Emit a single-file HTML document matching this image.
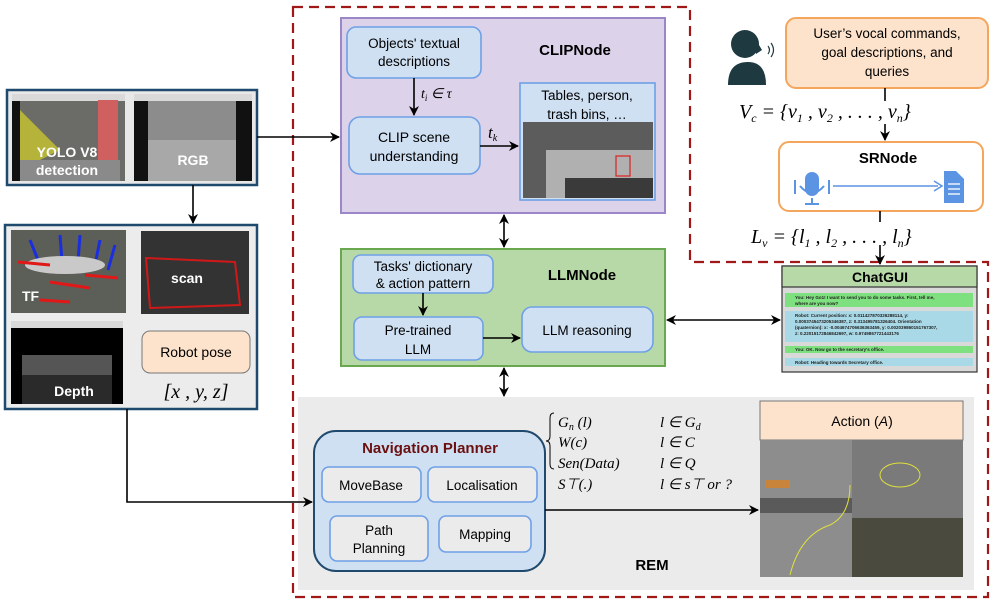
<!DOCTYPE html>
<html><head><meta charset="utf-8"><style>
body{margin:0;background:#fff}
svg{display:block;font-family:"Liberation Sans",sans-serif}
.m{font-family:"Liberation Serif",serif;font-style:italic}
</style></head><body>
<svg width="992" height="606" viewBox="0 0 992 606" xmlns="http://www.w3.org/2000/svg">
<defs>
<marker id="a" markerWidth="10" markerHeight="10" refX="9" refY="5" orient="auto" markerUnits="userSpaceOnUse"><path d="M0,0 L10,5 L0,10 L3,5z" fill="#000"/></marker>
<marker id="b" markerWidth="10" markerHeight="10" refX="1" refY="5" orient="auto" markerUnits="userSpaceOnUse"><path d="M10,0 L0,5 L10,10 L7,5z" fill="#000"/></marker>
</defs>
<!-- REM gray -->
<rect x="298" y="397" width="676" height="193" fill="#ebebeb"/>
<!-- red dashed border -->
<path d="M293,7 H690 V262 H988 V597 H293 Z" fill="none" stroke="#a01818" stroke-width="2.2" stroke-dasharray="10,6"/>

<!-- left panels -->
<rect x="7" y="90" width="250" height="95" fill="#e8e8e8" stroke="#1f4a6e" stroke-width="2.5"/>
<rect x="12" y="94" width="113" height="87" fill="#6b6b68"/>
<rect x="12" y="94" width="113" height="7" fill="#d9d9d9"/>
<rect x="12" y="101" width="8" height="80" fill="#111"/>
<polygon points="20,110 60,150 20,170" fill="#b5b33a"/>
<rect x="98" y="100" width="20" height="78" fill="#d06060"/>
<rect x="20" y="160" width="100" height="21" fill="#8a8a8a"/>
<text x="67" y="157" font-size="14" font-weight="bold" fill="#fff" text-anchor="middle">YOLO V8</text>
<text x="67" y="175" font-size="14" font-weight="bold" fill="#fff" text-anchor="middle">detection</text>
<rect x="134" y="94" width="118" height="87" fill="#8c8c8c"/>
<rect x="134" y="94" width="118" height="7" fill="#d9d9d9"/>
<rect x="134" y="101" width="14" height="80" fill="#111"/>
<rect x="236" y="101" width="16" height="80" fill="#111"/>
<rect x="148" y="140" width="88" height="41" fill="#a8a8a8"/>
<text x="193" y="165" font-size="14" font-weight="bold" fill="#fff" text-anchor="middle">RGB</text>

<rect x="5" y="225" width="252" height="184" fill="#ececec" stroke="#1f4a6e" stroke-width="2.5"/>
<rect x="11" y="230" width="115" height="83" fill="#5c5e58"/>
<g stroke="#1a2ee0" stroke-width="3"><line x1="30" y1="240" x2="40" y2="265"/><line x1="60" y1="235" x2="62" y2="262"/><line x1="80" y1="235" x2="78" y2="262"/><line x1="100" y1="240" x2="95" y2="265"/><line x1="115" y1="245" x2="108" y2="270"/></g>
<ellipse cx="65" cy="265" rx="40" ry="9" fill="#c9c9c9"/>
<g stroke="#e01818" stroke-width="3"><line x1="18" y1="262" x2="50" y2="265"/><line x1="50" y1="282" x2="90" y2="288"/><line x1="40" y1="300" x2="70" y2="302"/><line x1="85" y1="275" x2="118" y2="278"/></g>
<text x="22" y="301" font-size="14" font-weight="bold" fill="#fff">TF</text>
<rect x="141" y="231" width="108" height="83" fill="#333"/>
<path d="M146,258 L235,262 L240,305 L150,308 Z" fill="none" stroke="#d01818" stroke-width="2"/>
<text x="187" y="283" font-size="14" font-weight="bold" fill="#fff" text-anchor="middle">scan</text>
<rect x="11" y="321" width="112" height="7" fill="#d9d9d9"/>
<rect x="11" y="328" width="112" height="76" fill="#000"/>
<rect x="22" y="355" width="90" height="49" fill="#555"/>
<rect x="22" y="375" width="90" height="29" fill="#2a2a2a"/>
<text x="74" y="396" font-size="14" font-weight="bold" fill="#fff" text-anchor="middle">Depth</text>
<rect x="142" y="331" width="108" height="42" rx="8" fill="#fde3cc" stroke="#777" stroke-width="1"/>
<text x="196" y="357" font-size="14" text-anchor="middle">Robot pose</text>
<text x="196" y="398" font-size="20" text-anchor="middle" class="m">[x , y, z]</text>

<!-- left connectors -->
<line x1="257" y1="137" x2="339" y2="137" stroke="#000" stroke-width="1.6" marker-end="url(#a)"/>
<line x1="193" y1="185" x2="193" y2="223" stroke="#000" stroke-width="1.6" marker-end="url(#a)"/>
<path d="M127,409 V502 H312" fill="none" stroke="#000" stroke-width="1.6" marker-end="url(#a)"/>

<!-- CLIPNode -->
<rect x="341" y="18" width="324" height="195" fill="#dcd2e9" stroke="#9b87c8" stroke-width="2"/>
<text x="575" y="55" font-size="15" font-weight="bold" text-anchor="middle">CLIPNode</text>
<rect x="347" y="27" width="134" height="51" rx="9" fill="#cfe0f3" stroke="#6fa0e6" stroke-width="1.6"/>
<text x="414" y="48" font-size="13.5" text-anchor="middle">Objects' textual</text>
<text x="414" y="66" font-size="13.5" text-anchor="middle">descriptions</text>
<line x1="414" y1="78" x2="414" y2="115" stroke="#000" stroke-width="1.6" marker-end="url(#a)"/>
<text x="421" y="98" font-size="14" class="m">t<tspan font-size="9" dy="3">i</tspan><tspan dy="-3"> ∈ τ</tspan></text>
<rect x="349" y="117" width="131" height="57" rx="11" fill="#cfe0f3" stroke="#6fa0e6" stroke-width="1.6"/>
<text x="414" y="142" font-size="14" text-anchor="middle">CLIP scene</text>
<text x="414" y="161" font-size="14" text-anchor="middle">understanding</text>
<line x1="480" y1="146" x2="518" y2="146" stroke="#000" stroke-width="1.6" marker-end="url(#a)"/>
<text x="488" y="138" font-size="17" class="m">t<tspan font-size="10" dy="3">k</tspan></text>
<rect x="520" y="83" width="135" height="117" fill="#cfe0f3" stroke="#6fa0e6" stroke-width="1.6"/>
<text x="587" y="100" font-size="13.5" text-anchor="middle">Tables, person,</text>
<text x="587" y="119" font-size="13.5" text-anchor="middle">trash bins, …</text>
<rect x="523" y="122" width="130" height="76" fill="#5c5c5c"/>
<rect x="546" y="150" width="107" height="48" fill="#b0b0b0"/>
<rect x="565" y="178" width="88" height="20" fill="#3a3a3a"/>
<rect x="616" y="156" width="14" height="20" fill="none" stroke="#e02020" stroke-width="1.2"/>

<!-- double arrows -->
<line x1="504" y1="215" x2="504" y2="247" stroke="#000" stroke-width="1.6" marker-end="url(#a)" marker-start="url(#b)"/>
<line x1="504" y1="368" x2="504" y2="396" stroke="#000" stroke-width="1.6" marker-end="url(#a)" marker-start="url(#b)"/>

<!-- LLMNode -->
<rect x="341" y="249" width="324" height="117" fill="#b7d9a8" stroke="#6aa84f" stroke-width="2"/>
<text x="582" y="280" font-size="15" font-weight="bold" text-anchor="middle">LLMNode</text>
<rect x="353" y="255" width="140" height="38" rx="8" fill="#cfe0f3" stroke="#6fa0e6" stroke-width="1.6"/>
<text x="423" y="271" font-size="13.5" text-anchor="middle">Tasks' dictionary</text>
<text x="423" y="288" font-size="13.5" text-anchor="middle">&amp; action pattern</text>
<line x1="423" y1="293" x2="423" y2="315" stroke="#000" stroke-width="1.6" marker-end="url(#a)"/>
<rect x="354" y="317" width="129" height="43" rx="8" fill="#cfe0f3" stroke="#6fa0e6" stroke-width="1.6"/>
<text x="418" y="335" font-size="13.5" text-anchor="middle">Pre-trained</text>
<text x="418" y="354" font-size="13.5" text-anchor="middle">LLM</text>
<line x1="483" y1="338" x2="520" y2="338" stroke="#000" stroke-width="1.6" marker-end="url(#a)"/>
<rect x="522" y="307" width="131" height="45" rx="10" fill="#cfe0f3" stroke="#6fa0e6" stroke-width="1.6"/>
<text x="587" y="335" font-size="13.5" text-anchor="middle">LLM reasoning</text>
<line x1="667" y1="320" x2="780" y2="320" stroke="#000" stroke-width="1.6" marker-end="url(#a)" marker-start="url(#b)"/>

<!-- user/SRNode -->
<g fill="#1e3a40">
<circle cx="745" cy="44" r="14"/>
<path d="M728,85 Q728,62 748,62 Q766,62 766,85 Z"/>
<path d="M756,40 L762,50 L756,54 Z"/>
</g>
<path d="M768,46 q3,4 0,8 M771,43 q5,7 0,14" fill="none" stroke="#1e3a40" stroke-width="1.2"/>
<rect x="786" y="18" width="202" height="70" rx="10" fill="#fde3cc" stroke="#f4a75c" stroke-width="2"/>
<text x="887" y="38" font-size="13.5" text-anchor="middle">User’s  vocal commands,</text>
<text x="887" y="57" font-size="13.5" text-anchor="middle">goal descriptions, and</text>
<text x="887" y="76" font-size="13.5" text-anchor="middle">queries</text>
<line x1="885" y1="88" x2="885" y2="101" stroke="#000" stroke-width="1.6"/>
<text x="739" y="118" font-size="20" class="m">V<tspan font-size="12" dy="4">c</tspan><tspan dy="-4"> = {v</tspan><tspan font-size="12" dy="4">1</tspan><tspan dy="-4"> , v</tspan><tspan font-size="12" dy="4">2</tspan><tspan dy="-4"> , . . . , v</tspan><tspan font-size="12" dy="4">n</tspan><tspan dy="-4">}</tspan></text>
<line x1="885" y1="124" x2="885" y2="140" stroke="#000" stroke-width="1.6" marker-end="url(#a)"/>
<rect x="779" y="142" width="204" height="69" rx="10" fill="#fff" stroke="#f4a75c" stroke-width="2"/>
<text x="888" y="163" font-size="15" font-weight="bold" text-anchor="middle">SRNode</text>
<rect x="805" y="172" width="14" height="24" rx="7" fill="#5b94e3"/>
<path d="M800,186 q12,14 24,0 M812,198 v5 M805,204 h14 M795,180 v14 M829,180 v14" fill="none" stroke="#5b94e3" stroke-width="2"/>
<line x1="833" y1="186" x2="938" y2="186" stroke="#5b94e3" stroke-width="1.5"/>
<path d="M934,181 L942,186 L934,191" fill="none" stroke="#5b94e3" stroke-width="1.5"/>
<path d="M944,171 h12 l8,8 v24 h-20 z" fill="#5b94e3"/>
<g stroke="#fff" stroke-width="1.3"><line x1="948" y1="184" x2="960" y2="184"/><line x1="948" y1="189" x2="960" y2="189"/><line x1="948" y1="194" x2="960" y2="194"/></g>
<line x1="880" y1="211" x2="880" y2="222" stroke="#000" stroke-width="1.6"/>
<text x="751" y="243" font-size="20" class="m">L<tspan font-size="12" dy="4">v</tspan><tspan dy="-4"> = {l</tspan><tspan font-size="12" dy="4">1</tspan><tspan dy="-4"> , l</tspan><tspan font-size="12" dy="4">2</tspan><tspan dy="-4"> , . . . , l</tspan><tspan font-size="12" dy="4">n</tspan><tspan dy="-4">}</tspan></text>
<line x1="880" y1="245" x2="880" y2="264" stroke="#000" stroke-width="1.6" marker-end="url(#a)"/>

<!-- ChatGUI -->
<rect x="782" y="266" width="195" height="106" fill="#d9d9d9" stroke="#333" stroke-width="1.2"/>
<rect x="782" y="266" width="195" height="21" fill="#b7d9a8" stroke="#333" stroke-width="1.2"/>
<text x="880" y="282" font-size="14" font-weight="bold" text-anchor="middle">ChatGUI</text>
<rect x="785" y="293" width="188" height="14" fill="#7fe07f"/>
<rect x="785" y="311" width="188" height="31" fill="#a9d8e6"/>
<rect x="785" y="346" width="188" height="7" fill="#7fe07f"/>
<rect x="785" y="358" width="188" height="8" fill="#a9d8e6"/>
<g font-size="4.5" font-weight="bold" fill="#222">
<text x="795" y="299">You: Hey Go1! I want to send you to do some tasks. First, tell me,</text>
<text x="795" y="305">where are you now?</text>
<text x="795" y="317">Robot: Current position: x: 0.011427870326288114, y:</text>
<text x="795" y="323">0.0003745473205346387, z: 0.313495781326404. Orientation</text>
<text x="795" y="329">(quaternion): x: -0.004674706636363459, y: 0.002039860151767307,</text>
<text x="795" y="335">z: 0.22015172846842697, w: 0.9749867721443176</text>
<text x="795" y="351">You: OK. Now go to the secretary's office.</text>
<text x="795" y="364">Robot: Heading towards Secretary office.</text>
</g>

<!-- Navigation planner -->
<rect x="314" y="431" width="231" height="140" rx="22" fill="#cfe0f3" stroke="#1f4a6e" stroke-width="2"/>
<text x="430" y="453" font-size="15" font-weight="bold" fill="#6b1010" text-anchor="middle">Navigation Planner</text>
<rect x="322" y="467" width="99" height="35" rx="7" fill="#ebebeb" stroke="#6fa0e6" stroke-width="1.6"/>
<text x="371" y="490" font-size="13.5" text-anchor="middle">MoveBase</text>
<rect x="428" y="467" width="109" height="35" rx="7" fill="#ebebeb" stroke="#6fa0e6" stroke-width="1.6"/>
<text x="482" y="490" font-size="13.5" text-anchor="middle">Localisation</text>
<rect x="330" y="516" width="98" height="45" rx="7" fill="#ebebeb" stroke="#6fa0e6" stroke-width="1.6"/>
<text x="379" y="535" font-size="13.5" text-anchor="middle">Path</text>
<text x="379" y="553" font-size="13.5" text-anchor="middle">Planning</text>
<rect x="439" y="516" width="92" height="36" rx="7" fill="#ebebeb" stroke="#6fa0e6" stroke-width="1.6"/>
<text x="485" y="539" font-size="13.5" text-anchor="middle">Mapping</text>
<line x1="545" y1="510" x2="758" y2="510" stroke="#000" stroke-width="1.6" marker-end="url(#a)"/>

<!-- equations -->
<path d="M554,413 q-4,0 -4,5 v18 q0,5 -4,5 q4,0 4,5 v18 q0,5 4,5" fill="none" stroke="#000" stroke-width="1"/>
<g font-size="15" class="m">
<text x="558" y="427">G<tspan font-size="10" dy="3">n</tspan><tspan dy="-3"> (l)</tspan></text>
<text x="558" y="447">W(c)</text>
<text x="558" y="468">Sen(Data)</text>
<text x="558" y="489">S⊤(.)</text>
<text x="660" y="427">l ∈ G<tspan font-size="10" dy="3">d</tspan></text>
<text x="660" y="447">l ∈ C</text>
<text x="660" y="468">l ∈ Q</text>
<text x="660" y="489">l ∈ s⊤ or ?</text>
</g>
<text x="652" y="570" font-size="15" font-weight="bold" text-anchor="middle">REM</text>

<!-- Action -->
<rect x="760" y="401" width="203" height="39" fill="#fde3cc" stroke="#777" stroke-width="1"/>
<text x="862" y="426" font-size="14" text-anchor="middle">Action (<tspan font-style="italic">A</tspan>)</text>
<rect x="760" y="440" width="92" height="137" fill="#8d8d8d"/>
<rect x="852" y="440" width="111" height="137" fill="#7a7a7a"/>
<rect x="760" y="498" width="92" height="15" fill="#5a5a5a"/>
<rect x="852" y="518" width="111" height="59" fill="#4a4a3e"/>
<rect x="765" y="480" width="25" height="8" fill="#c8843a"/>
<ellipse cx="900" cy="475" rx="20" ry="12" fill="none" stroke="#e0e040" stroke-width="1"/>
<path d="M790,575 q10,-40 40,-50 q20,-10 20,-40" fill="none" stroke="#e0e040" stroke-width="1"/>
</svg>
</body></html>
